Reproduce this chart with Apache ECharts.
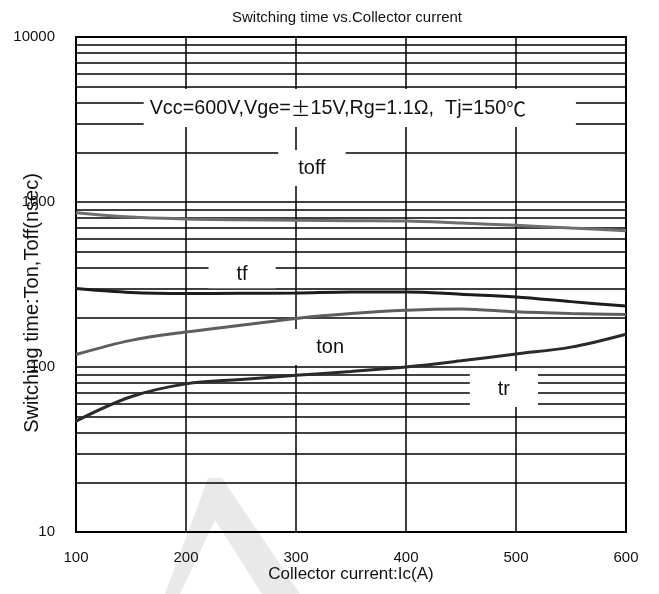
<!DOCTYPE html>
<html>
<head>
<meta charset="utf-8">
<script src="https://cdn.jsdelivr.net/npm/echarts@6/dist/echarts.min.js"></script>
<style>
html,body{margin:0;padding:0;background:#fff;}
#c{width:659px;height:594px;}
</style>
</head>
<body>
<div id="c"></div>
<script>
// ---- data ----
const current = [100, 150, 200, 250, 300, 350, 400, 450, 500, 550, 600];
const toff = [861, 810, 789, 780, 774, 770, 767, 745, 722, 695, 670];
const tf   = [299, 283, 279, 280, 281, 285, 285, 276, 266, 249, 234];
const ton  = [119, 145, 163, 179, 197, 211, 221, 225, 216, 211, 208];
const tr   = [47, 66, 79, 84, 89, 94, 100, 109, 120, 132, 158];
const xTicks = [100, 200, 300, 400, 500, 600];
const yMajor = [10, 100, 1000, 10000];
const yMinor = [20, 30, 40, 50, 60, 70, 80, 90, 200, 300, 400, 500, 600, 700, 800, 900,
                2000, 3000, 4000, 5000, 6000, 7000, 8000, 9000];
const curveNames = ['toff', 'tf', 'ton', 'tr'];
const labelText = ['toff', 'tf', 'ton', 'tr'];
const labelX = [314.5, 251, 331, 489];
const labelY = [1606, 365, 132, 73.5];
const noteX = 358;
const noteY = 3710;
const titleText = 'Switching time vs.Collector current';
const xName = 'Collector current:Ic(A)';
const yName = 'Switching time:Ton,Toff(nsec)';

// ---- styles ----
const FONT = "'Liberation Sans', Arial, sans-serif";
const curveColors = {toff: '#6e6e6e', tf: '#1c1c1c', ton: '#5e5e5e', tr: '#2a2a2a'};
const labelPad = {toff: [8, 20, 8, 20], tf: [4, 28, 4, 28], ton: [8, 24, 8, 24], tr: [8, 28, 8, 28]};

const chart = echarts.init(document.getElementById('c'), null, {renderer: 'canvas'});

const curveData = {toff, tf, ton, tr};
const curveSeries = curveNames.map(n => ({
  name: n,
  type: 'line',
  z: 4,
  smooth: 0.35,
  symbol: 'none',
  lineStyle: {color: curveColors[n], width: 3},
  data: current.map((x, i) => [x, curveData[n][i]])
}));

const option = {
  animation: false,
  backgroundColor: '#fff',
  title: {
    text: titleText,
    left: 342, top: 5, textAlign: 'center',
    textStyle: {fontFamily: FONT, fontSize: 15, fontWeight: 'normal', color: '#111'}
  },
  grid: {left: 76, top: 37, width: 550, height: 495, show: true, borderColor: '#000', borderWidth: 2,
         containLabel: false, outerBoundsMode: 'none'},
  xAxis: {
    type: 'value', min: 100, max: 600, interval: 100,
    name: xName, nameLocation: 'middle', nameGap: 34, nameMoveOverlap: false,
    nameTextStyle: {fontFamily: FONT, fontSize: 17, color: '#111'},
    axisLine: {show: true, lineStyle: {color: '#000', width: 2}},
    axisTick: {show: false},
    axisLabel: {fontFamily: FONT, fontSize: 15, color: '#111', margin: 18,
                formatter: v => xTicks.includes(v) ? String(v) : ''},
    splitLine: {show: true, lineStyle: {color: '#000', width: 1.5}}
  },
  yAxis: {
    type: 'log', logBase: 10, min: 10, max: 10000,
    name: yName, nameLocation: 'middle', nameGap: 34, nameMoveOverlap: false,
    nameTextStyle: {fontFamily: FONT, fontSize: 20, color: '#111', padding: [0, 37, 0, 0]},
    axisLine: {show: true, lineStyle: {color: '#000', width: 2}},
    axisTick: {show: false},
    axisLabel: {fontFamily: FONT, fontSize: 15, color: '#111', margin: 21,
                formatter: v => yMajor.includes(Math.round(v)) ? String(Math.round(v)) : ''},
    splitLine: {show: true, lineStyle: {color: '#000', width: 1.5}},
    minorTick: {show: false},
    minorSplitLine: {show: false}
  },
  series: [
    {
      type: 'line', name: 'minor', z: 1, data: [], silent: true,
      markLine: {
        z: 1,
        silent: true, symbol: 'none', animation: false,
        label: {show: false},
        lineStyle: {color: '#000', width: 1.5, type: 'solid'},
        data: yMinor.map(v => ({yAxis: v}))
      }
    },
    {
      type: 'scatter', name: 'labels', z: 3, symbolSize: 0, silent: true,
      itemStyle: {opacity: 1},
      data: labelText.map((t, i) => ({
        value: [labelX[i], labelY[i], t],
        label: {show: true, position: 'inside', formatter: t, opacity: 1,
                fontFamily: FONT, fontSize: 20, color: '#111',
                backgroundColor: '#fff', padding: labelPad[t]}
      })).concat([{
        value: [noteX, noteY, 'note'],
        label: {show: true, position: 'inside', opacity: 1,
                formatter: '{a|Vcc=600V,Vge=}{b|±}{a|15V,Rg=1.1Ω,  Tj=150}{b|℃}',
                backgroundColor: '#fff', padding: [9, 50, 9, 6],
                rich: {
                  a: {fontFamily: FONT, fontSize: 19.8, color: '#111'},
                  b: {fontFamily: "'Noto Sans CJK SC'", fontSize: 19.8, color: '#111'}
                }}
      }])
    }
  ].concat(curveSeries),
  graphic: [
    {type: 'polygon', z: -1, silent: true,
     shape: {points: [[208, 478], [222, 478], [300, 594], [262, 594], [215, 520], [180, 594], [165, 594]]},
     style: {fill: '#e9e9e9'}}
  ]
};
chart.setOption(option);
</script>
</body>
</html>
